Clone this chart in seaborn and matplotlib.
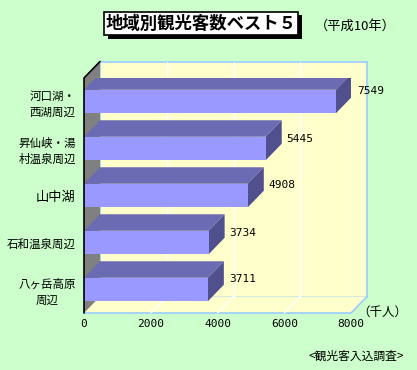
import numpy as np
import pandas as pd
import matplotlib
matplotlib.use('Agg')
from matplotlib import pyplot as plt
from matplotlib.patches import Polygon, Rectangle
import seaborn as sns

# data
areas = ['河口湖・\n西湖周辺', '昇仙峡・湯\n村温泉周辺', '山中湖', '石和温泉周辺', '八ヶ岳高原\n周辺']
visitors = [7549, 5445, 4908, 3734, 3711]
xticks = [0, 2000, 4000, 6000, 8000]

title = '地域別観光客数ベスト５'
year_note = '（平成10年）'
unit = '（千人）'
source = '<観光客入込調査>'

sns.set_theme(style='white')
plt.rcParams['font.family'] = ['Noto Sans CJK JP', 'DejaVu Sans']

W, H = 417, 370
fig = plt.figure(figsize=(W / 100, H / 100), dpi=100, facecolor='#CCFFCC')

def fx(x):
    return x / W

def fy(y):
    return 1 - y / H

# front plane in pixels: x 84..351, y 78..313
ax = fig.add_axes([fx(84), fy(313), 267 / W, 235 / H])
ax.set_facecolor('none')

df = pd.DataFrame({'area': areas, 'visitors': visitors})
sns.barplot(data=df, x='visitors', y='area', orient='h', color='#9999FF',
            width=0.5, saturation=1, ax=ax, zorder=5, linewidth=0)

ax.set_xlim(0, 8000)
ax.set_ylim(4.5, -0.5)

# depth offset (pixels -> data)
dpx, dpy = 16, 16.5
ddx = dpx * 8000 / 267
ddy = -dpy * 5 / 235

wall = '#FFFFCC'
edge = '#99CCFF'
# back wall
ax.add_patch(Polygon([(ddx, -0.5 + ddy), (8000 + ddx, -0.5 + ddy),
                      (8000 + ddx, 4.5 + ddy), (ddx, 4.5 + ddy)],
                     closed=True, fc=wall, ec=edge, lw=1.2, clip_on=False, zorder=0.5))
# floor
ax.add_patch(Polygon([(0, 4.5), (8000, 4.5), (8000 + ddx, 4.5 + ddy), (ddx, 4.5 + ddy)],
                     closed=True, fc=wall, ec='none', clip_on=False, zorder=0.6))
ax.plot([0, 8000, 8000 + ddx], [4.5, 4.5, 4.5 + ddy], color=edge, lw=1.2,
        clip_on=False, zorder=0.7)
# grid lines
for t in xticks[1:-1]:
    ax.plot([t + ddx, t + ddx], [-0.5 + ddy, 4.5 + ddy], color='white', lw=1,
            clip_on=False, zorder=0.8)
    ax.plot([t, t + ddx], [4.5, 4.5 + ddy], color='white', lw=1,
            clip_on=False, zorder=0.8)
# left wall
ax.add_patch(Polygon([(0, -0.5), (ddx, -0.5 + ddy), (ddx, 4.5 + ddy), (0, 4.5)],
                     closed=True, fc='#808080', ec='none', clip_on=False, zorder=0.9))
ax.plot([0, 0, ddx], [4.5, -0.5, -0.5 + ddy], color='black', lw=1.2,
        clip_on=False, zorder=6)

# 3d faces of bars
for p, v in zip(ax.patches, visitors):
    y0 = p.get_y()
    y1 = y0 + p.get_height()
    top = Polygon([(0, y0), (v, y0), (v + ddx, y0 + ddy), (ddx, y0 + ddy)],
                  closed=True, fc='#6B6BB3', ec='none', zorder=4)
    side = Polygon([(v, y0), (v + ddx, y0 + ddy), (v + ddx, y1 + ddy), (v, y1)],
                   closed=True, fc='#50508F', ec='none', zorder=4)
    ax.add_patch(top)
    ax.add_patch(side)
    ax.annotate(f'{v}', (v + ddx, (y0 + y1) / 2), xytext=(5, 10),
                textcoords='offset pixels', ha='left', va='center',
                fontsize=8, family='DejaVu Sans Mono', color='black',
                annotation_clip=False)

for s in ax.spines.values():
    s.set_visible(False)
ax.set_xticks(xticks)
ax.set_xticklabels([str(t) for t in xticks], family='DejaVu Sans Mono', fontsize=8)
ax.tick_params(axis='x', length=0, pad=4, colors='black')
ax.tick_params(axis='y', length=0, pad=6, colors='black')
for lab in ax.get_yticklabels():
    lab.set_multialignment('center')
    lab.set_fontsize(9.5 if lab.get_text() == '山中湖' else 8.3)
    lab.set_linespacing(1.3)
ax.set_xlabel('')
ax.set_ylabel('')

# title box with shadow
fig.patches.append(Rectangle((fx(108), fy(39)), 194 / W, 24 / H, transform=fig.transFigure,
                             fc='black', ec='none', zorder=1))
fig.patches.append(Rectangle((fx(104), fy(35)), 194 / W, 23 / H, transform=fig.transFigure,
                             fc='white', ec='black', lw=1.2, zorder=2))
fig.text(fx(201), fy(24), title, ha='center', va='center', fontsize=12.5,
         fontweight='bold', color='black', zorder=3)
fig.text(fx(355), fy(26), year_note, ha='center', va='center', fontsize=9.5, color='black')
fig.text(fx(382), fy(312), unit, ha='center', va='center', fontsize=9, color='black')
fig.text(fx(404), fy(356), source, ha='right', va='center', fontsize=8.5, color='black')

fig.savefig('out.png', dpi=100, facecolor=fig.get_facecolor())
